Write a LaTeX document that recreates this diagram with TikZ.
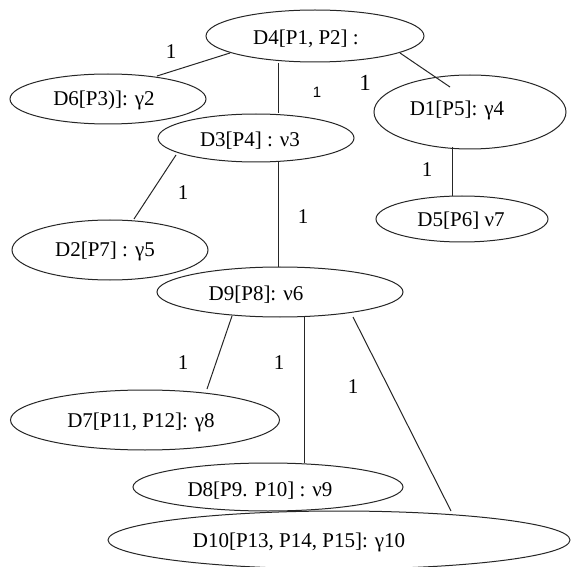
\documentclass[tikz,border=0pt]{standalone}
\usepackage{fontspec}
\setmainfont{Liberation Serif}
\newfontfamily\wtsans{Liberation Sans}
\usetikzlibrary{shapes.geometric,calc}
\begin{document}
\begin{tikzpicture}[x=1pt,y=-1pt,
  ell/.style={ellipse, draw=black!85, line width=1pt, inner sep=0pt},
  txt/.style={font=\fontsize{21}{24}\selectfont, inner sep=0pt, anchor=base},
  wt/.style={font=\fontsize{21}{24}\selectfont, inner sep=0pt},
  link/.style={draw=black!85, line width=1pt}]
\useasboundingbox[fill=white] (0,0) rectangle (571,567);

% ellipses
\node[ell, minimum width=218pt, minimum height=52pt] (D4) at (315,36) {};
\node[ell, minimum width=196pt, minimum height=50pt] (D6) at (108,99) {};
\node[ell, minimum width=192pt, minimum height=74pt] (D1) at (470,112) {};
\node[ell, minimum width=196pt, minimum height=48pt] (D3) at (256,138) {};
\node[ell, minimum width=172pt, minimum height=46pt] (D5) at (462,219) {};
\node[ell, minimum width=196pt, minimum height=60pt] (D2) at (110,250) {};
\node[ell, minimum width=246pt, minimum height=50pt] (D9) at (280,292) {};
\node[ell, minimum width=269pt, minimum height=60pt] (D7) at (145,420) {};
\node[ell, minimum width=270pt, minimum height=48pt] (D8) at (268,487) {};
\node[ell, minimum width=462pt, minimum height=58pt] (D10) at (339,540) {};

% texts inside the ellipses
\node[txt] (T4) at (306,45) {D4[P1, P2] :};
\node[txt] (T6) at (104,106) {D6[P3)]: γ2};
\node[txt] (T1) at (457,116) {D1[P5]: γ4};
\node[txt] (T3) at (250,147) {D3[P4] : ν3};
\node[txt] (T5) at (461,227) {D5[P6] ν7};
\node[txt] (T2) at (105,257) {D2[P7] : γ5};
\node[txt] (T9) at (256,301) {D9[P8]: ν6};
\node[txt] (T7) at (141,427) {D7[P11, P12]: γ8};
\node[txt] (T8) at (260,496) {D8[P9. P10] : ν9};
\node[txt] (T10) at (299,547) {D10[P13, P14, P15]: γ10};

% connectors
\draw[link] ($(D4.center)+(-85,17)$) -- ($(D6.center)+(49,-23)$);
\draw[link] ($(D4.center)+(-37,27)$) -- ($(D3.center)+(22,-25)$);
\draw[link] ($(D4.center)+(85,17)$) -- ($(D1.center)+(-20,-25)$);
\draw[link] ($(D1.center)+(-18,35)$) -- ($(D5.center)+(-10,-23)$);
\draw[link] ($(D3.center)+(-80,17)$) -- ($(D2.center)+(24,-31)$);
\draw[link] ($(D3.center)+(22,24)$) -- ($(D9.center)+(-2,-25)$);
\draw[link] ($(D9.center)+(-48,24)$) -- ($(D7.center)+(62,-31)$);
\draw[link] ($(D9.center)+(24,25)$) -- ($(D8.center)+(36,-24)$);
\draw[link] ($(D9.center)+(73,25)$) -- ($(D10.center)+(112,-29)$);

% edge weights
\node[wt] (W46) at (171,52) {1};
\node[wt, font=\wtsans\fontsize{15}{18}\selectfont] (W43) at (317,92) {1};
\node[wt, font=\fontsize{23}{26}\selectfont] (W41) at (365,83) {1};
\node[wt] (W15) at (427,170) {1};
\node[wt] (W32) at (183,193) {1};
\node[wt] (W39) at (303,217) {1};
\node[wt] (W97) at (183,363) {1};
\node[wt] (W98) at (279,363) {1};
\node[wt] (W910) at (353,387) {1};
\end{tikzpicture}
\end{document}
